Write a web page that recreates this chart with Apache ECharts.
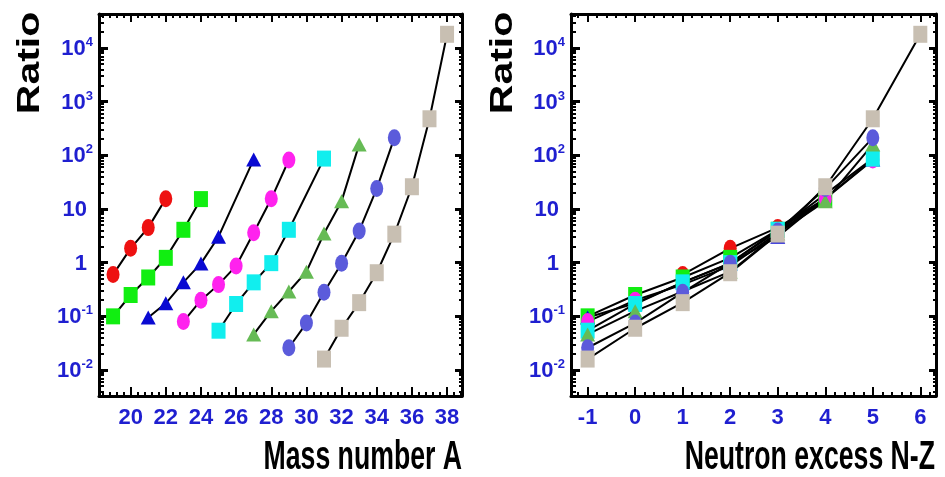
<!DOCTYPE html>
<html><head><meta charset="utf-8">
<script src="https://cdn.jsdelivr.net/npm/echarts@6/dist/echarts.min.js"></script>
<style>html,body{margin:0;padding:0;background:#fff}#wrap{position:relative;width:945px;height:477px}.layer{position:absolute;left:0;top:0;width:945px;height:477px}</style>
</head><body><div id="wrap"><div class="layer" id="axes"></div><div class="layer" id="marks"></div></div>
<script>
// ---- data (ratio values) ----
const massF  = [19, 20, 21, 22];
const nzF    = [1, 2, 3, 4];
const ratioF = [0.6, 1.85, 4.5, 15.6];

const massNe  = [19, 20, 21, 22, 23, 24];
const nzNe    = [-1, 0, 1, 2, 3, 4];
const ratioNe = [0.1, 0.25, 0.53, 1.23, 4.1, 15.3];

const massNa  = [21, 22, 23, 24, 25, 27];
const nzNa    = [-1, 0, 1, 2, 3, 5];
const ratioNa = [0.095, 0.175, 0.43, 0.97, 3.05, 84];

const massMg  = [23, 24, 25, 26, 27, 28, 29];
const nzMg    = [-1, 0, 1, 2, 3, 4, 5];
const ratioMg = [0.08, 0.2, 0.39, 0.87, 3.6, 15.5, 82];

const massAl  = [25, 26, 27, 28, 29, 31];
const nzAl    = [-1, 0, 1, 2, 3, 5];
const ratioAl = [0.054, 0.17, 0.43, 0.98, 4.1, 87];

const massSi  = [27, 28, 29, 30, 31, 32, 33];
const nzSi    = [-1, 0, 1, 2, 3, 4, 5];
const ratioSi = [0.046, 0.125, 0.29, 0.68, 3.5, 14, 160];

const massP  = [29, 30, 31, 32, 33, 34, 35];
const nzP    = [-1, 0, 1, 2, 3, 4, 5];
const ratioP = [0.026, 0.075, 0.28, 0.98, 3.9, 24, 212];

const massS  = [31, 32, 33, 34, 35, 36, 37, 38];
const nzS    = [-1, 0, 1, 2, 3, 4, 5, 6];
const ratioS = [0.016, 0.06, 0.18, 0.65, 3.4, 26, 480, 18000];

// ---- tick labels ----
const xTickLabelsA  = [20, 22, 24, 26, 28, 30, 32, 34, 36, 38];
const xTickLabelsNZ = [-1, 0, 1, 2, 3, 4, 5, 6];
const yTickValues   = [0.01, 0.1, 1, 10, 100, 1000, 10000];
const yTickLabels   = ['10^-2', '10^-1', '1', '10', '10^2', '10^3', '10^4'];

const xTitleA = 'Mass number A';
const xTitleNZ = 'Neutron excess N-Z';
const yTitle = 'Ratio';

// ---- styling ----
const chains = [
  { name: 'F',  a: massF,  nz: nzF,  r: ratioF,  symbol: 'circle',   size: [13, 17], color: '#ee1111' },
  { name: 'Ne', a: massNe, nz: nzNe, r: ratioNe, symbol: 'rect',     size: [14, 16], color: '#11ee11' },
  { name: 'Na', a: massNa, nz: nzNa, r: ratioNa, symbol: 'triangle', size: [15, 14], color: '#0a0ad2' },
  { name: 'Mg', a: massMg, nz: nzMg, r: ratioMg, symbol: 'circle',   size: [13, 17], color: '#ff22ee' },
  { name: 'Al', a: massAl, nz: nzAl, r: ratioAl, symbol: 'rect',     size: [14, 16], color: '#11eeee' },
  { name: 'Si', a: massSi, nz: nzSi, r: ratioSi, symbol: 'triangle', size: [15, 14], color: '#66bb55' },
  { name: 'P',  a: massP,  nz: nzP,  r: ratioP,  symbol: 'circle',   size: [13, 17], color: '#5b5bdb' },
  { name: 'S',  a: massS,  nz: nzS,  r: ratioS,  symbol: 'rect',     size: [14, 17], color: '#c8bfb2' }
];

const labelColor = '#1f1fd0';
const narrowFont = '"Liberation Sans Narrow", "Arial Narrow", "Liberation Sans", sans-serif';
const yMin = 0.00328, yMax = 43000;
const xRangeA = [18.2, 38.85], xRangeNZ = [-1.35, 6.33];
const grids = [
  { left: 99, top: 14, width: 363, height: 382 },
  { left: 571, top: 14, width: 365, height: 382 }
];

function yLabelFormatter(v) {
  let idx = -1;
  for (let i = 0; i < yTickValues.length; i++) {
    if (Math.abs(Math.log10(v) - Math.log10(yTickValues[i])) < 1e-6) idx = i;
  }
  if (idx < 0) return '';
  const s = yTickLabels[idx];
  if (s.indexOf('^') >= 0) {
    const parts = s.split('^');
    return '{b|' + parts[0] + '}{s|' + parts[1] + '}';
  }
  return '{n|' + s + '}';
}
function tok(size, extra) {
  return Object.assign({ fontSize: size, fontWeight: 'bold', color: labelColor, fontFamily: narrowFont }, extra);
}

// ---------- frame / axes layer ----------
function yAxisDef(grid, pos) {
  const main = pos === 'left';
  return {
    type: 'log', logBase: 10, gridIndex: grid, position: pos, min: yMin, max: yMax,
    axisLine: { show: true, onZero: false, lineStyle: { color: '#000', width: 3 } },
    axisTick: { show: true, inside: true, length: main ? 9 : 7, lineStyle: { color: '#000', width: 3 } },
    minorTick: { show: true, splitNumber: 9, length: main ? 5 : 3, lineStyle: { color: '#000', width: 2 } },
    splitLine: { show: false },
    axisLabel: main ? {
      show: true, margin: 6, formatter: yLabelFormatter,
      rich: {
        b: tok(22, { lineHeight: 24, verticalAlign: 'bottom' }),
        s: tok(13, { lineHeight: 24, verticalAlign: 'top' }),
        n: tok(22, { lineHeight: 24, verticalAlign: 'bottom', padding: [0, 6, 0, 0] })
      }
    } : { show: false }
  };
}
function xAxisDef(grid, pos, range, split, labels) {
  const main = pos === 'bottom';
  return {
    type: 'value', gridIndex: grid, position: pos, min: range[0], max: range[1], splitNumber: split,
    axisLine: { show: true, onZero: false, lineStyle: { color: '#000', width: 3 } },
    axisTick: { show: true, inside: true, length: main ? 9 : 8, lineStyle: { color: '#000', width: 2 } },
    minorTick: { show: true, splitNumber: 5, length: 4, lineStyle: { color: '#000', width: 2 } },
    splitLine: { show: false },
    axisLabel: main ? Object.assign({ show: true, margin: 11,
      formatter: function (v) { return labels.indexOf(v) >= 0 ? String(v) : ''; } }, tok(22, {})) : { show: false }
  };
}
const axesOption = {
  animation: false,
  grid: grids,
  xAxis: [
    xAxisDef(0, 'bottom', xRangeA, 10, xTickLabelsA),
    xAxisDef(0, 'top', xRangeA, 10, xTickLabelsA),
    xAxisDef(1, 'bottom', xRangeNZ, 8, xTickLabelsNZ),
    xAxisDef(1, 'top', xRangeNZ, 8, xTickLabelsNZ)
  ],
  yAxis: [yAxisDef(0, 'left'), yAxisDef(0, 'right'), yAxisDef(1, 'left'), yAxisDef(1, 'right')],
  series: [],
  graphic: [
    { type: 'text', x: 30, y: 63, rotation: Math.PI / 2, scaleX: 1.28,
      style: { text: yTitle, font: 'bold 32px sans-serif', fill: '#000', align: 'center', verticalAlign: 'middle' } },
    { type: 'text', x: 503, y: 63, rotation: Math.PI / 2, scaleX: 1.28,
      style: { text: yTitle, font: 'bold 32px sans-serif', fill: '#000', align: 'center', verticalAlign: 'middle' } },
    { type: 'text', x: 462, y: 478, scaleX: 0.65,
      style: { text: xTitleA, font: 'bold 41px sans-serif', fill: '#000', align: 'right', verticalAlign: 'bottom' } },
    { type: 'text', x: 935, y: 478, scaleX: 0.65,
      style: { text: xTitleNZ, font: 'bold 41px sans-serif', fill: '#000', align: 'right', verticalAlign: 'bottom' } }
  ]
};

// ---------- data layer (same scales, invisible axes) ----------
function hiddenAxis(type, grid, min, max) {
  return { type: type, gridIndex: grid, min: min, max: max, show: false,
    axisLine: { show: false }, axisTick: { show: false }, axisLabel: { show: false }, splitLine: { show: false } };
}
function makeSeries(c, xs, idx) {
  return {
    type: 'line', name: c.name, xAxisIndex: idx, yAxisIndex: idx,
    symbol: c.symbol, symbolSize: c.size,
    itemStyle: { color: c.color },
    lineStyle: { color: '#000', width: 2 },
    data: xs.map(function (x, i) { return [x, c.r[i]]; })
  };
}
const markSeries = [];
chains.forEach(function (c) { markSeries.push(makeSeries(c, c.a, 0)); });
chains.forEach(function (c) { markSeries.push(makeSeries(c, c.nz, 1)); });
const marksOption = {
  animation: false,
  backgroundColor: 'transparent',
  grid: grids,
  xAxis: [hiddenAxis('value', 0, xRangeA[0], xRangeA[1]), hiddenAxis('value', 1, xRangeNZ[0], xRangeNZ[1])],
  yAxis: [hiddenAxis('log', 0, yMin, yMax), hiddenAxis('log', 1, yMin, yMax)],
  series: markSeries
};

echarts.init(document.getElementById('axes')).setOption(axesOption);
echarts.init(document.getElementById('marks')).setOption(marksOption);
</script>
</body></html>
